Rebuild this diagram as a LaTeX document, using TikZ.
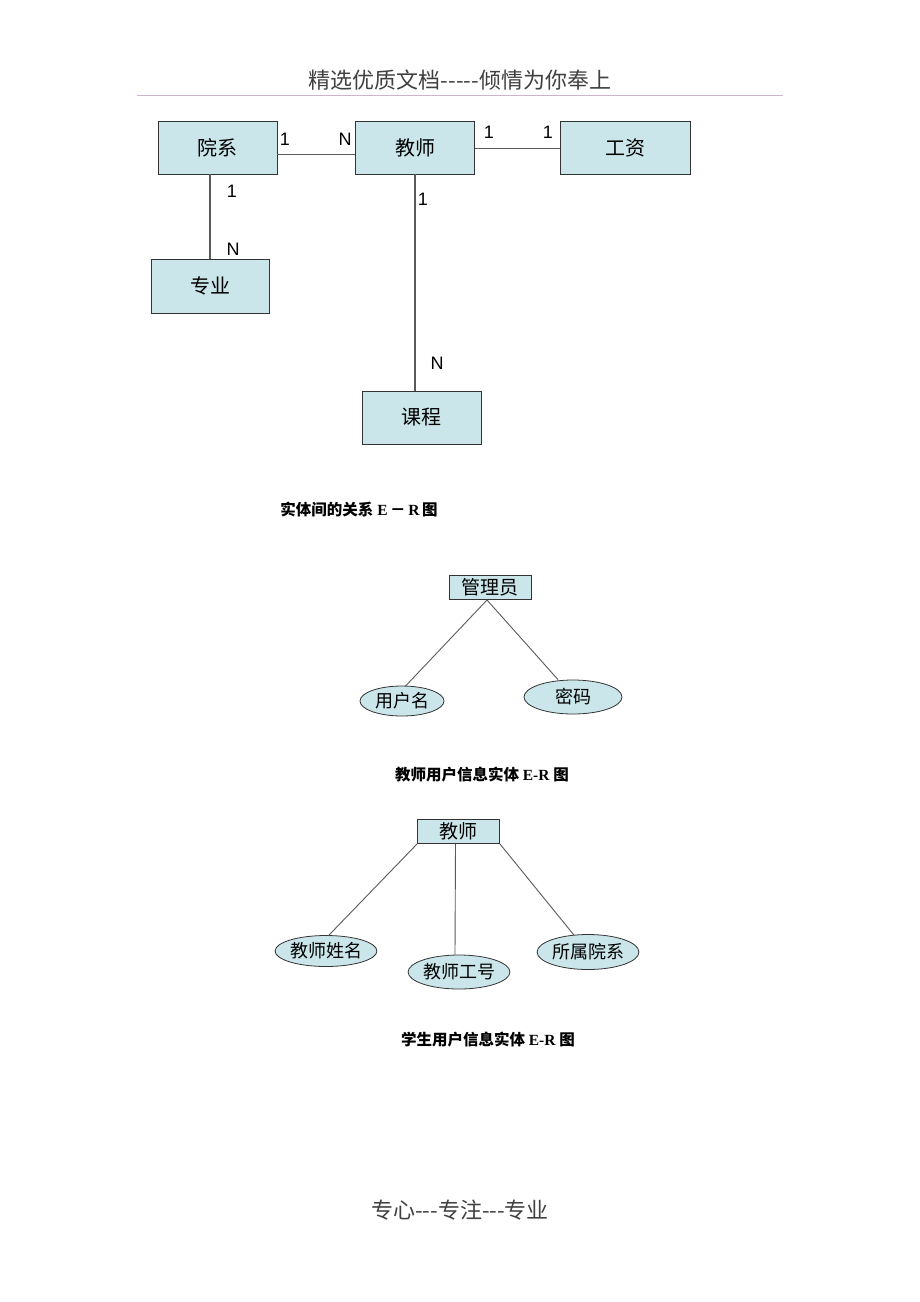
\documentclass[tikz,border=0pt]{standalone}
\usepackage{fontspec}
\setmainfont{Liberation Sans}
\newfontfamily\cjk{Noto Sans CJK SC}
\newfontfamily\lsans{Liberation Sans}
\newfontfamily\lserif{Liberation Serif}
\usetikzlibrary{shapes.geometric,calc}
\definecolor{boxfill}{RGB}{202,230,234}
\definecolor{linegray}{RGB}{90,90,90}
\definecolor{rulecol}{RGB}{205,180,205}
\tikzset{
  ent/.style={draw=black!80, line width=0.9pt, fill=boxfill, minimum width=119pt, minimum height=53pt, inner sep=0pt, font=\cjk\fontsize{20}{24}\selectfont},
  sent/.style={draw=black!80, line width=0.8pt, fill=boxfill, minimum width=82pt, minimum height=24pt, inner sep=0pt, font=\cjk\fontsize{19}{22}\selectfont},
  attr/.style={ellipse, draw=black!80, line width=0.8pt, fill=boxfill, inner sep=0pt, font=\cjk\fontsize{18}{22}\selectfont},
  conn/.style={draw=linegray, line width=1.2pt},
  sconn/.style={draw=linegray, line width=0.9pt},
  card/.style={font=\lsans\fontsize{18}{20}\selectfont, inner sep=0pt},
  captxt/.style={font=\cjk\bfseries\fontsize{15.5}{18}\selectfont, inner sep=0pt},
  hdr/.style={font=\cjk\fontsize{22}{26}\selectfont, text=black!75, inner sep=0pt}
}
\begin{document}
\begin{tikzpicture}[x=1pt,y=-1pt]
\useasboundingbox (0,0) rectangle (920,1302);
\fill[white] (0,0) rectangle (920,1302);
% header
\node[hdr] (header) at (460,80) {精选优质文档-----倾情为你奉上};
\coordinate (rl) at (137,95);
\coordinate (rr) at (783,95);
\draw[rulecol, line width=1pt] (rl) -- (rr);
% first diagram
\node[ent] (yx) at (217.5,147.5) {院系};
\node[ent] (js) at (415,147.5) {教师};
\node[ent, minimum width=130pt] (gz) at (625,147.5) {工资};
\node[ent, minimum width=118pt, minimum height=54pt] (zy) at (210,286) {专业};
\node[ent] (kc) at (421.5,417.5) {课程};
\draw[conn] ($(yx.east)+(0,7)$) -- ($(js.west)+(0,7)$);
\draw[conn] ($(js.east)+(0,1)$) -- ($(gz.west)+(0,1)$);
\draw[conn] (yx.south -| zy.north) -- (zy.north);
\draw[conn] (js.south) -- (js.south |- kc.north);
\node[card] (c1) at (285,139) {1};
\node[card] (c2) at (345,139) {N};
\node[card] (c3) at (489,132) {1};
\node[card] (c4) at (548,132) {1};
\node[card] (c5) at (232,191) {1};
\node[card] (c6) at (233,249) {N};
\node[card] (c7) at (423,199) {1};
\node[card] (c8) at (437,363) {N};
\node[captxt] (cap1) at (359,509) {实体间的关系{\lserif\bfseries\ E\,}－{\lserif\bfseries\,R\,}图};
% second diagram
\node[sent] (gly) at (490,587.5) {管理员};
\node[attr, minimum width=84pt, minimum height=30pt] (yhm) at (402,701) {用户名};
\node[attr, minimum width=98pt, minimum height=34pt] (mm) at (573,697) {密码};
\coordinate (g0) at (487,600);
\draw[sconn] (g0) -- ($(yhm.north)+(3,1)$);
\draw[sconn] (g0) -- ($(mm.north)+(-15,0)$);
\node[captxt] (cap2) at (482,775) {教师用户信息实体{\lserif\bfseries\ E-R }图};
% third diagram
\node[sent] (js2) at (458.5,831.5) {教师};
\node[attr, minimum width=84pt, minimum height=31pt] (jsxm) at (326,951) {教师姓名};
\node[attr, minimum width=94pt, minimum height=34pt] (jsgh) at (459,972) {教师工号};
\node[attr, minimum width=93pt, minimum height=35pt] (ssyx) at (588,952) {所属院系};
\draw[sconn] (js2.south west) -- ($(jsxm.north)+(2,1)$);
\draw[sconn] ($(js2.south)+(-3,0)$) -- ($(jsgh.north)+(-4,0)$);
\draw[sconn] (js2.south east) -- ($(ssyx.north)+(-14,1)$);
\node[captxt] (cap3) at (488,1040) {学生用户信息实体{\lserif\bfseries\ E-R }图};
% footer
\node[hdr] (footer) at (460,1210) {专心---专注---专业};
\end{tikzpicture}
\end{document}
